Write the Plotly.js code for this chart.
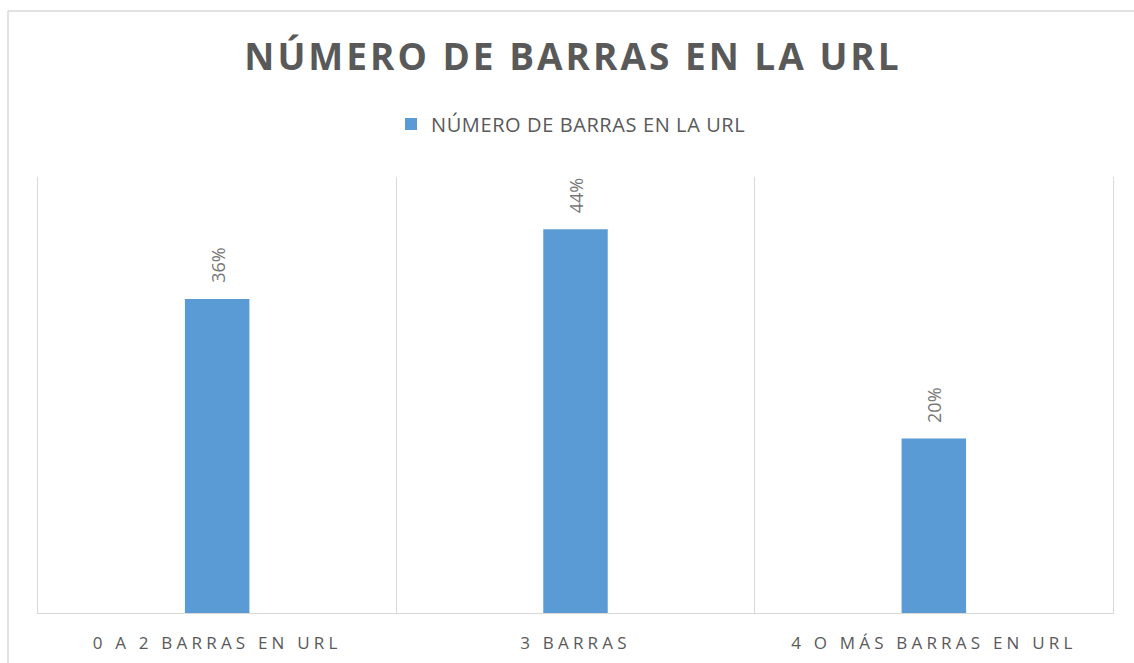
<!DOCTYPE html>
<html>
<head>
<meta charset="utf-8">
<script src="https://cdn.plot.ly/plotly-3.0.1.min.js"></script>
<style>
  html, body { margin: 0; padding: 0; background: #fff; }
  #chart { width: 1134px; height: 663px; }
  .gtitle { letter-spacing: 3px; }
  .xtick text { letter-spacing: 4.2px; }
  .legendtext { letter-spacing: 0.6px; }
</style>
</head>
<body>
<div id="chart"></div>
<script>
const categories = ["0 A 2 BARRAS EN URL", "3 BARRAS", "4 O MÁS BARRAS EN URL"];
const values = [0.36, 0.44, 0.20];
const seriesName = "NÚMERO DE BARRAS EN LA URL";
const chartTitle = "NÚMERO DE BARRAS EN LA URL";

const font = "'Open Sans', 'Noto Sans', sans-serif";

const trace = {
  type: "bar",
  x: categories,
  y: values,
  name: seriesName,
  marker: { color: "#5b9bd5" },
  width: 0.18,
  hoverinfo: "none",
  showlegend: true
};

const annotations = categories.map((c, i) => ({
  x: c,
  y: values[i],
  xref: "x",
  yref: "y",
  text: Math.round(values[i] * 100) + "%",
  textangle: -90,
  showarrow: false,
  xanchor: "center",
  yanchor: "bottom",
  yshift: 14,
  font: { family: font, size: 18, color: "#767676" }
}));

const border = "#d9d9d9";
const layout = {
  width: 1134,
  height: 663,
  margin: { l: 38, r: 21, t: 177, b: 50 },
  paper_bgcolor: "#ffffff",
  plot_bgcolor: "#ffffff",
  font: { family: font, color: "#595959" },
  title: {
    text: "<b>" + chartTitle + "</b>",
    font: { family: font, size: 37, color: "#595959" },
    x: (573 - 38) / 1075,
    xref: "paper",
    xanchor: "center",
    y: 1 - 57 / 663,
    yref: "container",
    yanchor: "middle"
  },
  showlegend: true,
  legend: {
    orientation: "h",
    x: (571 - 38) / 1075,
    xanchor: "center",
    y: (613 - 124) / 436,
    yanchor: "middle",
    font: { family: font, size: 20, color: "#595959" },
    bgcolor: "rgba(0,0,0,0)"
  },
  xaxis: {
    type: "category",
    tickson: "boundaries",
    showgrid: true,
    gridcolor: border,
    gridwidth: 1,
    showline: true,
    linecolor: border,
    linewidth: 1,
    ticks: "",
    ticklabelstandoff: 15,
    tickfont: { family: font, size: 17, color: "#595959" },
    fixedrange: true
  },
  yaxis: {
    range: [0, 0.5],
    showgrid: false,
    zeroline: false,
    showticklabels: false,
    showline: true,
    mirror: true,
    linecolor: border,
    linewidth: 1,
    ticks: "",
    fixedrange: true
  },
  annotations: annotations,
  shapes: [
    { type: "line", xref: "paper", yref: "paper", x0: (8 - 38) / 1075, x1: (8 - 38) / 1075, y0: (613 - 11) / 436, y1: -0.2, line: { color: border, width: 1.5 } },
    { type: "line", xref: "paper", yref: "paper", x0: (8 - 38) / 1075, x1: 1.1, y0: (613 - 11) / 436, y1: (613 - 11) / 436, line: { color: border, width: 1.5 } }
  ]
};

Plotly.newPlot("chart", [trace], layout, { displayModeBar: false, staticPlot: true });
</script>
</body>
</html>
